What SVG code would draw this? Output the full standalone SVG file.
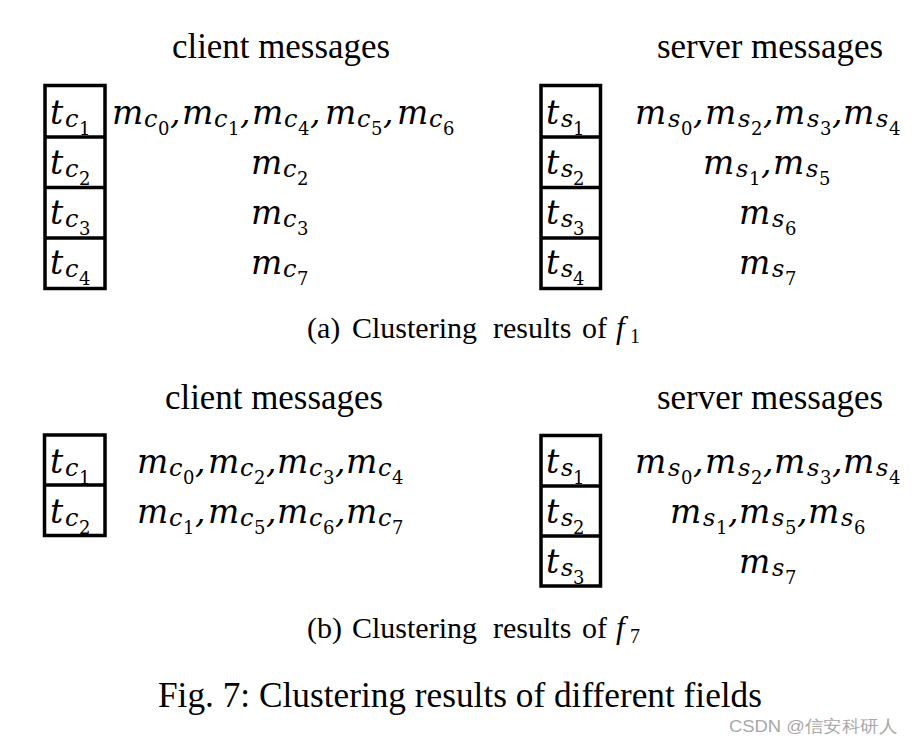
<svg xmlns="http://www.w3.org/2000/svg" width="915" height="747" viewBox="0 0 915 747">
<style>
.bg{fill:#fff}
.box{fill:none;stroke:#000;stroke-width:3.5}
.div{stroke:#000;stroke-width:3.5}
.ttl{font-family:"Liberation Serif",serif;font-size:36px;fill:#000}
.cap{font-family:"Liberation Serif",serif;font-size:30px;fill:#000}
.fig{font-family:"Liberation Serif",serif;font-size:35px;fill:#000}
.capi{font-family:"Liberation Serif",serif;font-style:italic;font-size:31px}
.capd{font-family:"Liberation Serif",serif;font-size:20px}
.math{font-family:"DejaVu Serif",serif;fill:#000}
.mi{font-style:italic;font-size:33px}
.sb{font-style:italic;font-size:24px}
.dg{font-style:normal;font-size:18px}
.wm{font-family:"Liberation Sans",Arial,sans-serif;font-size:17px;fill:#a8a8a8}
</style>
<rect class="bg" x="0" y="0" width="915" height="747"/>

<g id="titles">
<text class="ttl" x="172" y="58" textLength="218" lengthAdjust="spacingAndGlyphs">client messages</text>
<text class="ttl" x="657" y="58" textLength="226" lengthAdjust="spacingAndGlyphs">server messages</text>
<text class="ttl" x="165" y="409" textLength="218" lengthAdjust="spacingAndGlyphs">client messages</text>
<text class="ttl" x="657" y="409" textLength="226" lengthAdjust="spacingAndGlyphs">server messages</text>
</g>

<!-- (a) client types -->
<g id="a-client-box">
<rect class="box" x="45" y="85.5" width="60" height="203"/>
<line class="div" x1="45" y1="137" x2="105" y2="137"/>
<line class="div" x1="45" y1="187.5" x2="105" y2="187.5"/>
<line class="div" x1="45" y1="238" x2="105" y2="238"/>
</g>
<g id="a-tc1" class="math"><text x="50" y="124"><tspan class="mi">t</tspan><tspan class="sb" x="65" y="127">c</tspan><tspan class="dg" x="79" y="135">1</tspan></text></g>
<g id="a-tc2" class="math"><text x="50" y="174"><tspan class="mi">t</tspan><tspan class="sb" x="65" y="177">c</tspan><tspan class="dg" x="79" y="185">2</tspan></text></g>
<g id="a-tc3" class="math"><text x="50" y="224"><tspan class="mi">t</tspan><tspan class="sb" x="65" y="227">c</tspan><tspan class="dg" x="79" y="235">3</tspan></text></g>
<g id="a-tc4" class="math"><text x="50" y="274"><tspan class="mi">t</tspan><tspan class="sb" x="65" y="277">c</tspan><tspan class="dg" x="79" y="285">4</tspan></text></g>

<g id="a-client-msgs" class="math">
<text x="112" y="124"><tspan class="mi">m</tspan><tspan class="sb" x="144" y="127">c</tspan><tspan class="dg" x="158" y="135">0</tspan><tspan class="mi" x="170" y="124">,</tspan><tspan class="mi" x="182" y="124">m</tspan><tspan class="sb" x="214" y="127">c</tspan><tspan class="dg" x="228" y="135">1</tspan><tspan class="mi" x="240" y="124">,</tspan><tspan class="mi" x="252" y="124">m</tspan><tspan class="sb" x="284" y="127">c</tspan><tspan class="dg" x="298" y="135">4</tspan><tspan class="mi" x="310" y="124">,</tspan><tspan class="mi" x="325" y="124">m</tspan><tspan class="sb" x="357" y="127">c</tspan><tspan class="dg" x="371" y="135">5</tspan><tspan class="mi" x="383" y="124">,</tspan><tspan class="mi" x="397" y="124">m</tspan><tspan class="sb" x="429" y="127">c</tspan><tspan class="dg" x="443" y="135">6</tspan></text>
<text x="251" y="174"><tspan class="mi">m</tspan><tspan class="sb" x="283" y="177">c</tspan><tspan class="dg" x="297" y="185">2</tspan></text>
<text x="251" y="224"><tspan class="mi">m</tspan><tspan class="sb" x="283" y="227">c</tspan><tspan class="dg" x="297" y="235">3</tspan></text>
<text x="251" y="274"><tspan class="mi">m</tspan><tspan class="sb" x="283" y="277">c</tspan><tspan class="dg" x="297" y="285">7</tspan></text>
</g>

<!-- (a) server types -->
<g id="a-server-box">
<rect class="box" x="541" y="85.5" width="59.5" height="203"/>
<line class="div" x1="541" y1="137" x2="600.5" y2="137"/>
<line class="div" x1="541" y1="187.5" x2="600.5" y2="187.5"/>
<line class="div" x1="541" y1="238" x2="600.5" y2="238"/>
</g>
<g id="a-ts1" class="math"><text x="546" y="124"><tspan class="mi">t</tspan><tspan class="sb" x="561" y="127">s</tspan><tspan class="dg" x="573" y="135">1</tspan></text></g>
<g id="a-ts2" class="math"><text x="546" y="174"><tspan class="mi">t</tspan><tspan class="sb" x="561" y="177">s</tspan><tspan class="dg" x="573" y="185">2</tspan></text></g>
<g id="a-ts3" class="math"><text x="546" y="224"><tspan class="mi">t</tspan><tspan class="sb" x="561" y="227">s</tspan><tspan class="dg" x="573" y="235">3</tspan></text></g>
<g id="a-ts4" class="math"><text x="546" y="274"><tspan class="mi">t</tspan><tspan class="sb" x="561" y="277">s</tspan><tspan class="dg" x="573" y="285">4</tspan></text></g>

<g id="a-server-msgs" class="math">
<text x="635" y="124"><tspan class="mi">m</tspan><tspan class="sb" x="668" y="127">s</tspan><tspan class="dg" x="681" y="135">0</tspan><tspan class="mi" x="693" y="124">,</tspan><tspan class="mi" x="705" y="124">m</tspan><tspan class="sb" x="738" y="127">s</tspan><tspan class="dg" x="751" y="135">2</tspan><tspan class="mi" x="763" y="124">,</tspan><tspan class="mi" x="774" y="124">m</tspan><tspan class="sb" x="807" y="127">s</tspan><tspan class="dg" x="820" y="135">3</tspan><tspan class="mi" x="832" y="124">,</tspan><tspan class="mi" x="843" y="124">m</tspan><tspan class="sb" x="876" y="127">s</tspan><tspan class="dg" x="889" y="135">4</tspan></text>
<text x="703" y="174"><tspan class="mi">m</tspan><tspan class="sb" x="736" y="177">s</tspan><tspan class="dg" x="749" y="185">1</tspan><tspan class="mi" x="761" y="174">,</tspan><tspan class="mi" x="773" y="174">m</tspan><tspan class="sb" x="806" y="177">s</tspan><tspan class="dg" x="819" y="185">5</tspan></text>
<text x="739" y="224"><tspan class="mi">m</tspan><tspan class="sb" x="772" y="227">s</tspan><tspan class="dg" x="785" y="235">6</tspan></text>
<text x="739" y="274"><tspan class="mi">m</tspan><tspan class="sb" x="772" y="277">s</tspan><tspan class="dg" x="785" y="285">7</tspan></text>
</g>

<g id="caption-a">
<text class="cap" y="338"><tspan x="307">(a)</tspan><tspan x="352">Clustering</tspan><tspan x="493">results</tspan><tspan x="582">of</tspan><tspan class="capi" x="616">f</tspan><tspan class="capd" x="630" y="343">1</tspan></text>
</g>

<!-- (b) client types -->
<g id="b-client-box">
<rect class="box" x="44.5" y="435" width="60.5" height="100.5"/>
<line class="div" x1="44.5" y1="485" x2="105" y2="485"/>
</g>
<g id="b-tc1" class="math"><text x="50" y="473"><tspan class="mi">t</tspan><tspan class="sb" x="65" y="476">c</tspan><tspan class="dg" x="79" y="484">1</tspan></text></g>
<g id="b-tc2" class="math"><text x="50" y="523"><tspan class="mi">t</tspan><tspan class="sb" x="65" y="526">c</tspan><tspan class="dg" x="79" y="534">2</tspan></text></g>

<g id="b-client-msgs" class="math">
<text x="137" y="473"><tspan class="mi">m</tspan><tspan class="sb" x="169" y="476">c</tspan><tspan class="dg" x="183" y="484">0</tspan><tspan class="mi" x="195" y="473">,</tspan><tspan class="mi" x="208" y="473">m</tspan><tspan class="sb" x="240" y="476">c</tspan><tspan class="dg" x="254" y="484">2</tspan><tspan class="mi" x="266" y="473">,</tspan><tspan class="mi" x="277" y="473">m</tspan><tspan class="sb" x="309" y="476">c</tspan><tspan class="dg" x="323" y="484">3</tspan><tspan class="mi" x="335" y="473">,</tspan><tspan class="mi" x="346" y="473">m</tspan><tspan class="sb" x="378" y="476">c</tspan><tspan class="dg" x="392" y="484">4</tspan></text>
<text x="137" y="523"><tspan class="mi">m</tspan><tspan class="sb" x="169" y="526">c</tspan><tspan class="dg" x="183" y="534">1</tspan><tspan class="mi" x="195" y="523">,</tspan><tspan class="mi" x="208" y="523">m</tspan><tspan class="sb" x="240" y="526">c</tspan><tspan class="dg" x="254" y="534">5</tspan><tspan class="mi" x="266" y="523">,</tspan><tspan class="mi" x="277" y="523">m</tspan><tspan class="sb" x="309" y="526">c</tspan><tspan class="dg" x="323" y="534">6</tspan><tspan class="mi" x="335" y="523">,</tspan><tspan class="mi" x="346" y="523">m</tspan><tspan class="sb" x="378" y="526">c</tspan><tspan class="dg" x="392" y="534">7</tspan></text>
</g>

<!-- (b) server types -->
<g id="b-server-box">
<rect class="box" x="541" y="435.5" width="59.5" height="150.5"/>
<line class="div" x1="541" y1="486" x2="600.5" y2="486"/>
<line class="div" x1="541" y1="536" x2="600.5" y2="536"/>
</g>
<g id="b-ts1" class="math"><text x="546" y="473"><tspan class="mi">t</tspan><tspan class="sb" x="561" y="476">s</tspan><tspan class="dg" x="573" y="484">1</tspan></text></g>
<g id="b-ts2" class="math"><text x="546" y="523"><tspan class="mi">t</tspan><tspan class="sb" x="561" y="526">s</tspan><tspan class="dg" x="573" y="534">2</tspan></text></g>
<g id="b-ts3" class="math"><text x="546" y="573"><tspan class="mi">t</tspan><tspan class="sb" x="561" y="576">s</tspan><tspan class="dg" x="573" y="584">3</tspan></text></g>

<g id="b-server-msgs" class="math">
<text x="635" y="473"><tspan class="mi">m</tspan><tspan class="sb" x="668" y="476">s</tspan><tspan class="dg" x="681" y="484">0</tspan><tspan class="mi" x="693" y="473">,</tspan><tspan class="mi" x="705" y="473">m</tspan><tspan class="sb" x="738" y="476">s</tspan><tspan class="dg" x="751" y="484">2</tspan><tspan class="mi" x="763" y="473">,</tspan><tspan class="mi" x="774" y="473">m</tspan><tspan class="sb" x="807" y="476">s</tspan><tspan class="dg" x="820" y="484">3</tspan><tspan class="mi" x="832" y="473">,</tspan><tspan class="mi" x="843" y="473">m</tspan><tspan class="sb" x="876" y="476">s</tspan><tspan class="dg" x="889" y="484">4</tspan></text>
<text x="670" y="523"><tspan class="mi">m</tspan><tspan class="sb" x="703" y="526">s</tspan><tspan class="dg" x="716" y="534">1</tspan><tspan class="mi" x="728" y="523">,</tspan><tspan class="mi" x="739" y="523">m</tspan><tspan class="sb" x="772" y="526">s</tspan><tspan class="dg" x="785" y="534">5</tspan><tspan class="mi" x="797" y="523">,</tspan><tspan class="mi" x="808" y="523">m</tspan><tspan class="sb" x="841" y="526">s</tspan><tspan class="dg" x="854" y="534">6</tspan></text>
<text x="739" y="573"><tspan class="mi">m</tspan><tspan class="sb" x="772" y="576">s</tspan><tspan class="dg" x="785" y="584">7</tspan></text>
</g>

<g id="caption-b">
<text class="cap" y="638"><tspan x="307">(b)</tspan><tspan x="352">Clustering</tspan><tspan x="493">results</tspan><tspan x="582">of</tspan><tspan class="capi" x="616">f</tspan><tspan class="capd" x="630" y="643">7</tspan></text>
</g>

<g id="figure-caption">
<text class="fig" x="158" y="707" textLength="604" lengthAdjust="spacingAndGlyphs">Fig. 7: Clustering results of different fields</text>
</g>

<text class="wm" x="729" y="732" textLength="168" lengthAdjust="spacingAndGlyphs">CSDN @信安科研人</text>
</svg>
